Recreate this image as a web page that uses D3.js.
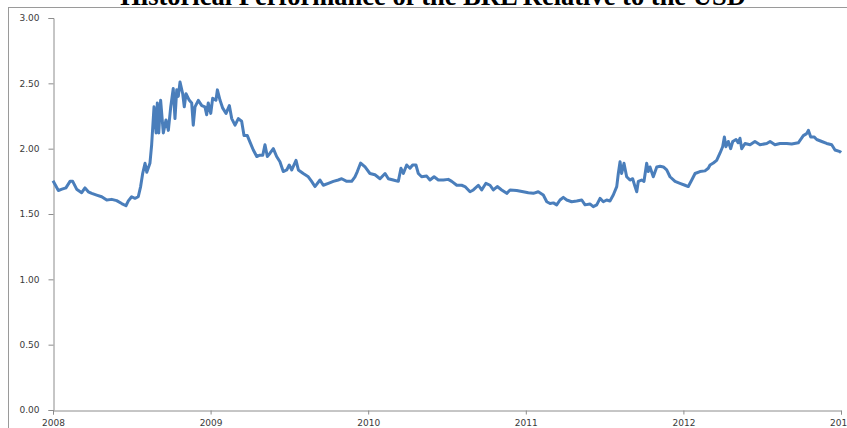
<!DOCTYPE html>
<html>
<head>
<meta charset="utf-8">
<script src="https://cdnjs.cloudflare.com/ajax/libs/d3/7.8.5/d3.min.js"></script>
<style>
  html, body { margin: 0; padding: 0; background: #fff; overflow: hidden; }
  svg { display: block; }
</style>
</head>
<body>
<div id="chart"></div>
<script>
// BRL per USD (x as fractional year)
const title = 'Historical Performance of the BRL Relative to the USD';
const yearTicks = [2008, 2009, 2010, 2011, 2012, 2013];
const rateTicks = [0, 0.5, 1, 1.5, 2, 2.5, 3];

const years = [
  2008.000, 2008.034, 2008.057, 2008.082, 2008.108, 2008.125, 2008.150, 2008.182, 2008.203, 2008.224,
  2008.246, 2008.277, 2008.309, 2008.341, 2008.372, 2008.404, 2008.436, 2008.463, 2008.478, 2008.499,
  2008.520, 2008.541, 2008.556, 2008.569, 2008.584, 2008.595, 2008.615, 2008.626, 2008.641, 2008.654,
  2008.662, 2008.671, 2008.683, 2008.700, 2008.717, 2008.732, 2008.747, 2008.763, 2008.774, 2008.785,
  2008.795, 2008.806, 2008.823, 2008.833, 2008.844, 2008.865, 2008.880, 2008.890, 2008.901, 2008.922,
  2008.944, 2008.964, 2008.975, 2008.985, 2009.001, 2009.013, 2009.034, 2009.043, 2009.060, 2009.077,
  2009.098, 2009.119, 2009.134, 2009.155, 2009.176, 2009.197, 2009.212, 2009.233, 2009.250, 2009.271,
  2009.293, 2009.313, 2009.331, 2009.345, 2009.360, 2009.377, 2009.398, 2009.419, 2009.440, 2009.461,
  2009.483, 2009.499, 2009.515, 2009.542, 2009.557, 2009.588, 2009.620, 2009.641, 2009.662, 2009.694,
  2009.715, 2009.747, 2009.779, 2009.810, 2009.832, 2009.864, 2009.895, 2009.916, 2009.931, 2009.952,
  2009.980, 2010.011, 2010.043, 2010.075, 2010.107, 2010.128, 2010.159, 2010.191, 2010.208, 2010.223,
  2010.244, 2010.265, 2010.282, 2010.303, 2010.318, 2010.339, 2010.371, 2010.392, 2010.418, 2010.445,
  2010.477, 2010.508, 2010.530, 2010.562, 2010.593, 2010.614, 2010.646, 2010.667, 2010.699, 2010.720,
  2010.747, 2010.773, 2010.794, 2010.819, 2010.847, 2010.879, 2010.900, 2010.942, 2010.984, 2011.016,
  2011.048, 2011.079, 2011.111, 2011.133, 2011.154, 2011.175, 2011.196, 2011.217, 2011.238, 2011.260,
  2011.291, 2011.323, 2011.355, 2011.376, 2011.407, 2011.428, 2011.450, 2011.471, 2011.492, 2011.513,
  2011.534, 2011.555, 2011.577, 2011.587, 2011.598, 2011.608, 2011.623, 2011.640, 2011.661, 2011.678,
  2011.693, 2011.704, 2011.714, 2011.735, 2011.750, 2011.767, 2011.777, 2011.788, 2011.809, 2011.831,
  2011.852, 2011.873, 2011.894, 2011.915, 2011.947, 2011.978, 2012.010, 2012.031, 2012.053, 2012.074,
  2012.105, 2012.137, 2012.158, 2012.169, 2012.190, 2012.211, 2012.232, 2012.249, 2012.260, 2012.270,
  2012.285, 2012.300, 2012.313, 2012.334, 2012.348, 2012.359, 2012.370, 2012.391, 2012.423, 2012.454,
  2012.486, 2012.529, 2012.550, 2012.581, 2012.613, 2012.656, 2012.687, 2012.729, 2012.761, 2012.782,
  2012.793, 2012.808, 2012.829, 2012.846, 2012.878, 2012.909, 2012.941, 2012.962, 2012.994, 2013.000
];

const brl = [
  1.755, 1.680, 1.690, 1.700, 1.750, 1.750, 1.690, 1.663, 1.700, 1.670,
  1.658, 1.645, 1.632, 1.607, 1.612, 1.602, 1.580, 1.563, 1.600, 1.632,
  1.620, 1.632, 1.710, 1.810, 1.888, 1.820, 1.888, 2.030, 2.320, 2.120,
  2.350, 2.120, 2.370, 2.120, 2.220, 2.140, 2.320, 2.460, 2.230, 2.450,
  2.400, 2.510, 2.420, 2.320, 2.420, 2.370, 2.350, 2.180, 2.320, 2.370,
  2.330, 2.320, 2.260, 2.350, 2.270, 2.385, 2.370, 2.450, 2.370, 2.310,
  2.270, 2.330, 2.230, 2.180, 2.230, 2.210, 2.100, 2.100, 2.050, 1.990,
  1.940, 1.950, 1.950, 2.030, 1.940, 1.965, 2.000, 1.940, 1.900, 1.825,
  1.837, 1.875, 1.837, 1.910, 1.837, 1.810, 1.785, 1.750, 1.710, 1.760,
  1.720, 1.735, 1.750, 1.760, 1.770, 1.750, 1.750, 1.785, 1.825, 1.890,
  1.860, 1.810, 1.800, 1.770, 1.810, 1.770, 1.760, 1.750, 1.850, 1.810,
  1.875, 1.850, 1.875, 1.875, 1.810, 1.785, 1.790, 1.760, 1.785, 1.760,
  1.760, 1.765, 1.750, 1.720, 1.720, 1.710, 1.670, 1.684, 1.720, 1.684,
  1.735, 1.720, 1.684, 1.710, 1.684, 1.658, 1.684, 1.680, 1.670, 1.663,
  1.658, 1.670, 1.645, 1.594, 1.580, 1.585, 1.570, 1.607, 1.627, 1.607,
  1.594, 1.600, 1.607, 1.570, 1.577, 1.556, 1.570, 1.620, 1.594, 1.607,
  1.600, 1.645, 1.710, 1.810, 1.900, 1.810, 1.888, 1.785, 1.760, 1.770,
  1.710, 1.670, 1.750, 1.760, 1.750, 1.888, 1.825, 1.860, 1.785, 1.860,
  1.865, 1.860, 1.837, 1.785, 1.750, 1.735, 1.720, 1.710, 1.760, 1.810,
  1.825, 1.830, 1.850, 1.875, 1.890, 1.910, 1.965, 2.015, 2.090, 2.015,
  2.055, 2.000, 2.055, 2.070, 2.045, 2.080, 2.000, 2.040, 2.030, 2.055,
  2.030, 2.040, 2.055, 2.030, 2.040, 2.040, 2.035, 2.045, 2.100, 2.115,
  2.140, 2.090, 2.090, 2.070, 2.055, 2.040, 2.030, 1.990, 1.977, 1.970
];

const series = years.map((y, i) => ({ year: y, rate: brl[i] }));

const width = 847;
const height = 428;
const margin = { top: 18, right: 6, bottom: 18, left: 53 };

const svg = d3.select('#chart').append('svg')
  .attr('width', width)
  .attr('height', height);

// chart frame, runs off the right and bottom edges
svg.append('rect')
  .attr('x', 8.5)
  .attr('y', 7.5)
  .attr('width', 860)
  .attr('height', 440)
  .attr('fill', 'none')
  .attr('stroke', '#9a9a9a')
  .attr('stroke-width', 1);

// title sits partly above the top edge, as in the source image
svg.append('text')
  .attr('x', 433)
  .attr('y', 5)
  .attr('text-anchor', 'middle')
  .style('font-family', '"Liberation Serif", "Times New Roman", serif')
  .style('font-weight', 'bold')
  .style('font-size', '26.5px')
  .style('fill', '#000')
  .text(title);

const x = d3.scaleLinear()
  .domain([2008, 2013])
  .range([margin.left, width - margin.right]);

const y = d3.scaleLinear()
  .domain([0, 3])
  .range([height - margin.bottom, margin.top]);

const yAxis = svg.append('g')
  .attr('transform', `translate(${margin.left + 0.5},0)`)
  .call(d3.axisLeft(y).tickValues(rateTicks).tickFormat(d3.format('.2f')).tickSize(5).tickPadding(9));

const xAxis = svg.append('g')
  .attr('transform', `translate(0,${height - margin.bottom + 0.5})`)
  .call(d3.axisBottom(x).tickValues(yearTicks).tickFormat(d3.format('d')).tickSize(4).tickPadding(5));

[yAxis, xAxis].forEach((ax) => {
  ax.select('.domain').attr('stroke', '#8c8c8c');
  ax.selectAll('.tick line').attr('stroke', '#8c8c8c');
  ax.selectAll('.tick text')
    .style('font-family', '"DejaVu Sans", Verdana, sans-serif')
    .style('font-size', '9px')
    .style('fill', '#3a3a3a');
});

const line = d3.line()
  .x((d) => x(d.year))
  .y((d) => y(d.rate));

svg.append('path')
  .datum(series)
  .attr('fill', 'none')
  .attr('stroke', '#4a7ebb')
  .attr('stroke-width', 3)
  .attr('stroke-linejoin', 'round')
  .attr('d', line);
</script>
</body>
</html>
